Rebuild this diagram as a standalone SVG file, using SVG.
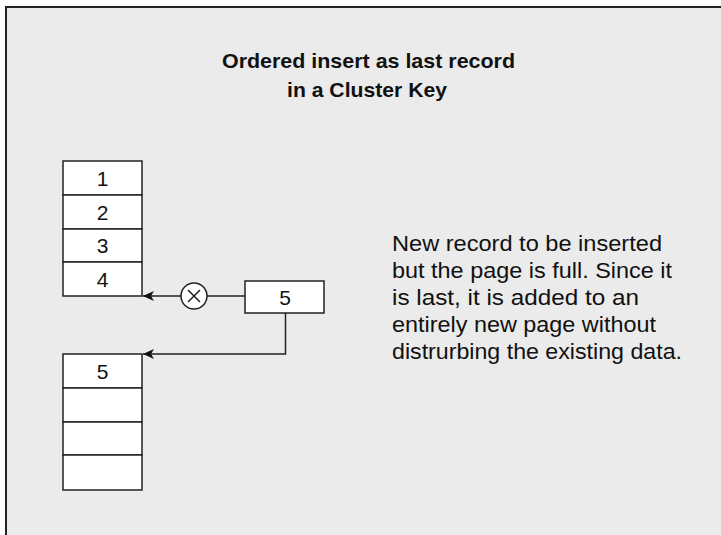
<svg xmlns="http://www.w3.org/2000/svg" width="721" height="535" viewBox="0 0 721 535">
<defs>
<style>
.cell{fill:#ffffff;stroke:#222;stroke-width:1.5}
.num{font-family:"Liberation Sans",Arial,sans-serif;font-size:21px;fill:#111;text-anchor:middle}
.title{font-family:"Liberation Sans",Arial,sans-serif;font-size:21px;font-weight:bold;fill:#111}
.body{font-family:"Liberation Sans",Arial,sans-serif;font-size:22px;fill:#111}
.wire{fill:none;stroke:#222;stroke-width:1.5}
</style>
<marker id="arr" markerWidth="12" markerHeight="10" refX="11" refY="5" orient="auto" markerUnits="userSpaceOnUse">
<path d="M0,0 L11,5 L0,10 L3,5 Z" fill="#111"/>
</marker>
</defs>
<rect x="0" y="0" width="721" height="535" fill="#ffffff"/>
<rect x="6" y="7" width="720" height="535" fill="#ebebeb"/>
<path d="M6,535 L6,7 L721,7" fill="none" stroke="#222" stroke-width="2"/>
<g id="title">
<text class="title" x="222" y="68" textLength="293" lengthAdjust="spacingAndGlyphs">Ordered insert as last record</text>
<text class="title" x="287" y="97" textLength="160" lengthAdjust="spacingAndGlyphs">in a Cluster Key</text>
</g>
<g id="page1">
<rect class="cell" x="63" y="161" width="79" height="34"/>
<rect class="cell" x="63" y="195" width="79" height="34"/>
<rect class="cell" x="63" y="229" width="79" height="33"/>
<rect class="cell" x="63" y="262" width="79" height="34"/>
<text class="num" x="102.5" y="186">1</text>
<text class="num" x="102.5" y="220">2</text>
<text class="num" x="102.5" y="253">3</text>
<text class="num" x="102.5" y="287">4</text>
</g>
<g id="page2">
<rect class="cell" x="63" y="354" width="79" height="34"/>
<rect class="cell" x="63" y="388" width="79" height="34"/>
<rect class="cell" x="63" y="422" width="79" height="33"/>
<rect class="cell" x="63" y="455" width="79" height="35"/>
<text class="num" x="102.5" y="379">5</text>
</g>
<g id="newrec">
<rect class="cell" x="245" y="281" width="79" height="32"/>
<text class="num" x="285" y="305">5</text>
</g>
<g id="blocked">
<circle cx="194" cy="296" r="13" fill="#ffffff" stroke="#222" stroke-width="1.5"/>
<path d="M188,290 L200,302 M200,290 L188,302" stroke="#222" stroke-width="1.5"/>
</g>
<g id="connectors">
<line class="wire" x1="245" y1="296" x2="207" y2="296"/>
<line class="wire" x1="181" y1="296" x2="143" y2="296" marker-end="url(#arr)"/>
<polyline class="wire" points="285.5,313 285.5,354 143,354" marker-end="url(#arr)"/>
</g>
<g id="note">
<text class="body" x="392" y="251" textLength="270" lengthAdjust="spacingAndGlyphs">New record to be inserted</text>
<text class="body" x="392" y="278" textLength="280" lengthAdjust="spacingAndGlyphs">but the page is full. Since it</text>
<text class="body" x="392" y="305" textLength="247" lengthAdjust="spacingAndGlyphs">is last, it is added to an</text>
<text class="body" x="392" y="332" textLength="264" lengthAdjust="spacingAndGlyphs">entirely new page without</text>
<text class="body" x="392" y="359" textLength="290" lengthAdjust="spacingAndGlyphs">distrurbing the existing data.</text>
</g>
</svg>
